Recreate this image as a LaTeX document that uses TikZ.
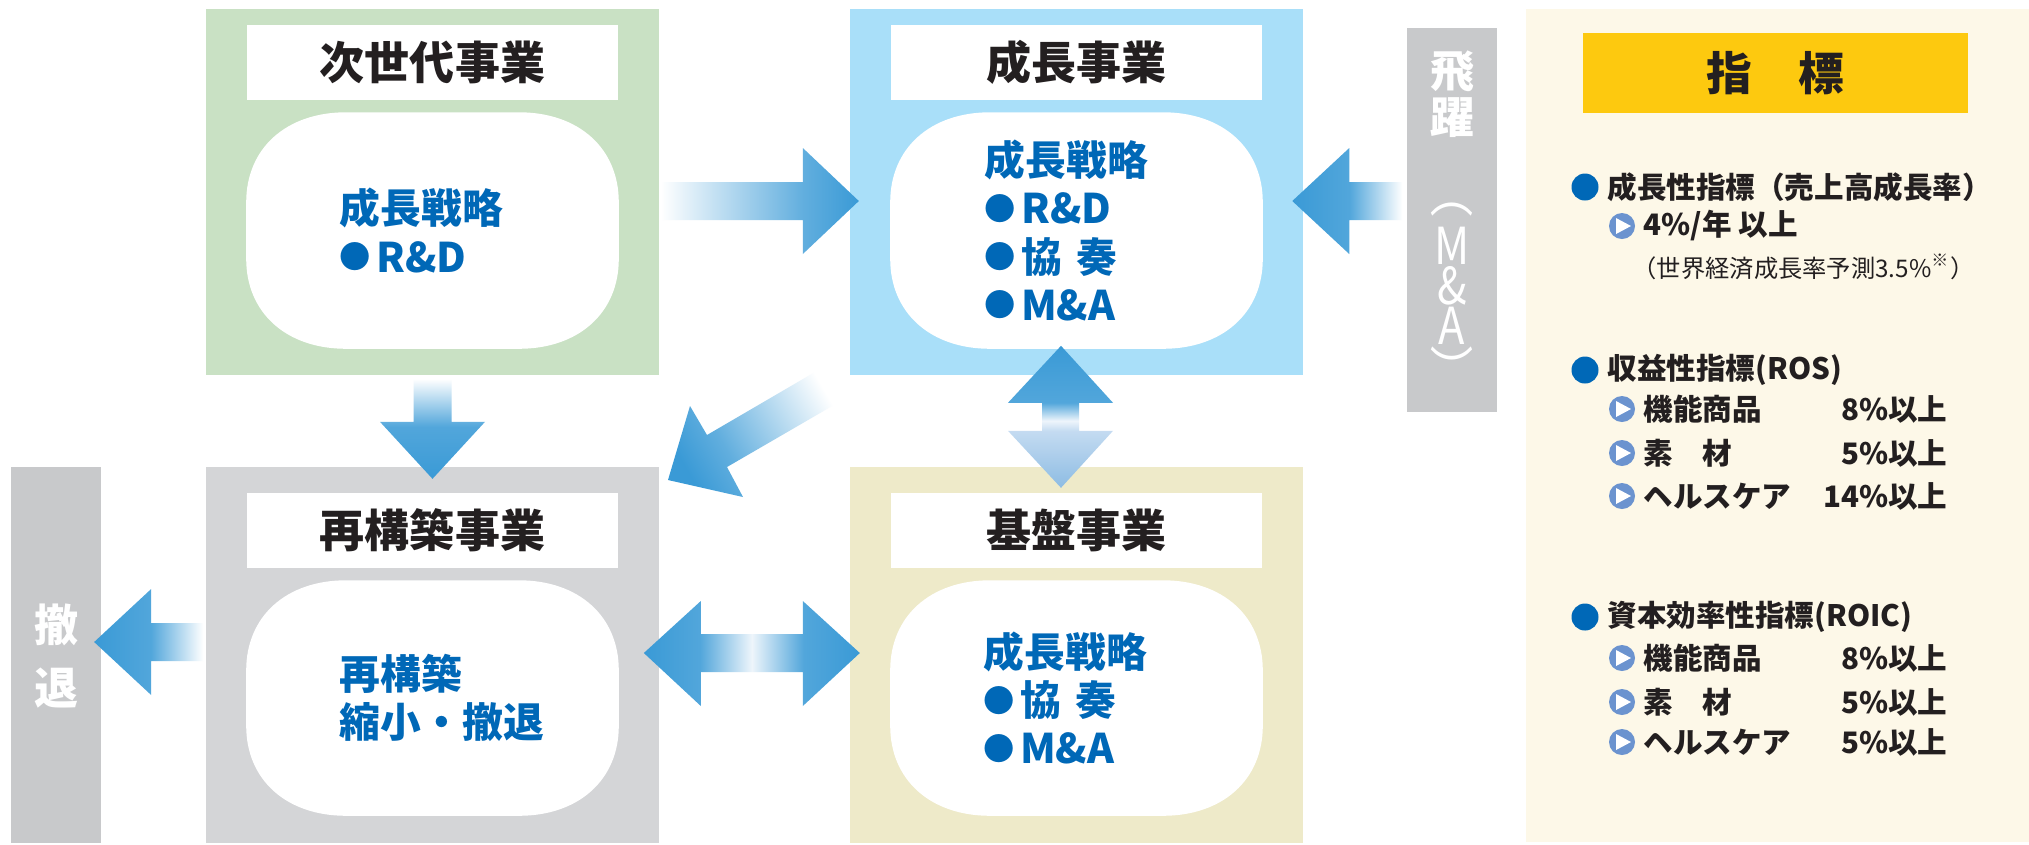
\documentclass[tikz,border=0pt]{standalone}
\usepackage{fontspec}
\setmainfont{Noto Sans CJK JP}
\usetikzlibrary{positioning,calc}

\definecolor{nextgreen}{HTML}{C9E1C4}
\definecolor{growblue}{HTML}{A9DFF9}
\definecolor{rebuildgray}{HTML}{D4D5D7}
\definecolor{basebeige}{HTML}{EEEAC9}
\definecolor{sidegray}{HTML}{C8C9CB}
\definecolor{panelcream}{HTML}{FDF8E8}
\definecolor{headyellow}{HTML}{FDC90F}
\definecolor{textblue}{HTML}{0068B7}
\definecolor{textdark}{HTML}{231F20}
\definecolor{iconblue}{HTML}{6B93CF}
\definecolor{arrowblue}{HTML}{3A9AD6}
\definecolor{arrowpale}{HTML}{EEF5FB}
\definecolor{lowblue}{HTML}{8DBCE3}
\definecolor{lowpale}{HTML}{C4DBF1}
\colorlet{arrowmid}{arrowblue!80!white}
\colorlet{arrowsoft}{arrowblue!88!white}

% gradients for the block arrows (25bp..75bp = path box)
\pgfdeclarehorizontalshading{fadelong}{100bp}{color(0bp)=(white); color(25bp)=(white); color(61bp)=(arrowmid); color(75bp)=(arrowblue); color(100bp)=(arrowblue)}
\pgfdeclarehorizontalshading{fadeshort}{100bp}{color(0bp)=(white); color(25bp)=(white); color(49bp)=(arrowsoft); color(75bp)=(arrowblue); color(100bp)=(arrowblue)}
\pgfdeclarehorizontalshading{dblfade}{100bp}{color(0bp)=(arrowblue); color(25bp)=(arrowblue); color(38bp)=(arrowsoft); color(50bp)=(arrowpale); color(62bp)=(arrowsoft); color(75bp)=(arrowblue); color(100bp)=(arrowblue)}
\pgfdeclareverticalshading{updown}{100bp}{color(0bp)=(lowblue); color(25bp)=(lowblue); color(45bp)=(lowpale); color(48.6bp)=(arrowpale); color(55bp)=(arrowsoft); color(75bp)=(arrowblue); color(100bp)=(arrowblue)}

\tikzset{
  box/.style={minimum width=4.53cm, inner sep=0pt},
  titlebox/.style={fill=white, minimum width=3.71cm, minimum height=0.75cm, inner sep=0pt,
    font=\fontsize{12.8}{14}\selectfont\bfseries, text=textdark},
  core/.style={minimum width=3.71cm, inner sep=0pt},
  plan/.style={anchor=west, align=left, inner sep=0pt,
    font=\fontsize{11.6}{13.7}\selectfont\bfseries, text=textblue},
  side/.style={fill=sidegray, minimum width=0.9cm, inner sep=0pt},
  sidetext/.style={text=white, inner sep=0pt, font=\fontsize{12.5}{14}\selectfont\bfseries},
  sidelatin/.style={text=white, inner sep=0pt, xscale=0.85, font=\fontsize{14.5}{11.4}\selectfont},
  item/.style={anchor=west, inner sep=0pt, font=\fontsize{8.4}{10}\selectfont\bfseries, text=textdark},
}

% small bullet in the plans
\newcommand\dotb{\raisebox{1pt}{\fontsize{8.9}{9}\selectfont ●}\hspace{0.12em}}

% white rounded core inside a business box
\newcommand\blob[1]{%
  \fill[white] let \p1=(#1.north west), \p2=(#1.south east) in
    (\x1,\y1-0.9cm) .. controls (\x1,\y1-0.36cm) and (\x1+0.4cm,\y1) .. (\x1+1cm,\y1)
    -- (\x2-1cm,\y1) .. controls (\x2-0.4cm,\y1) and (\x2,\y1-0.36cm) .. (\x2,\y1-0.9cm)
    -- (\x2,\y2+0.9cm) .. controls (\x2,\y2+0.36cm) and (\x2-0.4cm,\y2) .. (\x2-1cm,\y2)
    -- (\x1+1cm,\y2) .. controls (\x1+0.4cm,\y2) and (\x1,\y2+0.36cm) .. (\x1,\y2+0.9cm) -- cycle;}

\begin{document}
\begin{tikzpicture}[x=0.01cm, y=-0.01cm]
\fill[white] (0,0) rectangle (2029,844);
\useasboundingbox (0,0) rectangle (2029,844);

% business boxes
\node[box, fill=nextgreen, minimum height=3.66cm] (next) at (432.5,192) {};
\node[box, fill=growblue, minimum height=3.66cm] (grow) at (1076.5,192) {};
\node[box, fill=rebuildgray, minimum height=3.76cm] (rebuild) at (432.5,655) {};
\node[box, fill=basebeige, minimum height=3.76cm] (base) at (1076.5,655) {};

\node[titlebox, below=0.16cm of next.north] (nexttitle) {次世代事業};
\node[titlebox, below=0.16cm of grow.north] (growtitle) {成長事業};
\node[titlebox, below=0.26cm of rebuild.north] (rebuildtitle) {再構築事業};
\node[titlebox, below=0.26cm of base.north] (basetitle) {基盤事業};

\node[core, minimum height=2.35cm, below=1.04cm of next.north] (nextcore) {};
\node[core, minimum height=2.35cm, below=1.04cm of grow.north] (growcore) {};
\node[core, minimum height=2.34cm, below=1.14cm of rebuild.north] (rebuildcore) {};
\node[core, minimum height=2.34cm, below=1.14cm of base.north] (basecore) {};
\foreach \c in {nextcore, growcore, rebuildcore, basecore} {\blob{\c}}

\node[plan] (nextplan) at ([xshift=0.93cm]nextcore.west) {成長戦略\\\dotb R\&D};
\node[plan] (growplan) at ([xshift=0.94cm]growcore.west) {成長戦略\\\dotb R\&D\\\dotb 協\hspace{0.35em}奏\\\dotb M\&A};
\node[plan] (rebuildplan) at ([xshift=0.93cm]rebuildcore.west) {再構築\\縮小・撤退};
\node[plan] (baseplan) at ([xshift=0.93cm]basecore.west) {成長戦略\\\dotb 協\hspace{0.35em}奏\\\dotb M\&A};

% side columns
\node[side, minimum height=3.76cm] (exit) at (56,655) {};
\node[sidetext] (exit1) at (56,625) {撤};
\node[sidetext] (exit2) at (56,688) {退};

\node[side, minimum height=3.84cm] (leap) at (1452,220) {};
\node[sidetext] (leap1) at (1452,72) {飛};
\node[sidetext] (leap2) at (1452,118) {躍};
\node[sidelatin, rotate=-90] (leap3) at (1452,193) {（};
\node[sidelatin, align=center] (leapma) at (1452,286) {M\\\&\\A};
\node[sidelatin, rotate=-90] (leap4) at (1452,370) {）};

% block arrows
\coordinate (t1) at ($(next.east)+(1,9)$);
\shade[shading=fadelong] ($(t1)+(0,-19)$) -- ++(142,0) -- ++(0,-34) -- ++(56,53) -- ++(-56,53) -- ++(0,-34) -- ++(-142,0) -- cycle;
\coordinate (t2) at ($(leap.west)+(-4,-19)$);
\shade[shading=fadeshort, shading angle=180] ($(t2)+(0,-19)$) -- ++(-53,0) -- ++(0,-34) -- ++(-57,53) -- ++(57,53) -- ++(0,-34) -- ++(53,0) -- cycle;
\coordinate (t3) at ($(rebuild.west)+(-2,-13)$);
\shade[shading=fadeshort, shading angle=180] ($(t3)+(0,-19)$) -- ++(-52,0) -- ++(0,-34) -- ++(-57,53) -- ++(57,53) -- ++(0,-34) -- ++(52,0) -- cycle;
\coordinate (t4) at ($(next.south)+(0,3)$);
\shade[shading=fadeshort, shading angle=270] ($(t4)+(-19,0)$) -- ++(0,43) -- ++(-33.5,0) -- ++(52.5,57) -- ++(52.5,-57) -- ++(-33.5,0) -- ++(0,-43) -- cycle;
\coordinate (t5) at ($(rebuild.east)+(-16,-2)$);
\shade[shading=dblfade] (t5) -- ++(57,-52) -- ++(0,33) -- ++(102,0) -- ++(0,-33) -- ++(57,52) -- ++(-57,53) -- ++(0,-34) -- ++(-102,0) -- ++(0,34) -- cycle;
\coordinate (t6) at ($(grow.south)+(-15.5,-30)$);
\shade[shading=updown] (t6) -- ++(52,57) -- ++(-34,0) -- ++(0,28) -- ++(34,0) -- ++(-52,57) -- ++(-53,-57) -- ++(34,0) -- ++(0,-28) -- ++(-34,0) -- cycle;
\coordinate (t7) at ($(grow.south west)+(-27,-8)$);
\shade[shading=fadelong, shading angle=210] (t7) -- (707,435) -- (690,406) -- (668,480) -- (743,497) -- (727,467) -- (846,398) -- cycle;

% indicator panel
\node[fill=panelcream, minimum width=5.03cm, minimum height=8.33cm, inner sep=0pt] (panel) at (1777.5,425.5) {};
\node[fill=headyellow, minimum width=3.85cm, minimum height=0.8cm, inner sep=0pt,
  font=\fontsize{13}{14}\selectfont\bfseries, text=textdark] (head) at (1775.5,73) {指　標};

\foreach \y/\t [count=\i] in {187/成長性指標（売上高成長率）, 370/収益性指標(ROS), 617/資本効率性指標(ROIC)} {
  \fill[textblue] (1585,\y) circle[radius=0.135cm];
  \node[item] (sec\i) at (1607,\y) {\t};
}
\foreach \y in {226,409,453,496,658,702,742} {
  \fill[iconblue] (1622,\y) circle[radius=0.13cm];
  \fill[white] (1616,\y-8) -- (1631,\y) -- (1616,\y+8) -- cycle;
}
\node[item] (rate) at (1643,226) {4\%/年 以上};
\node[item, font=\fontsize{6.9}{8}\selectfont] (note) at (1632,267) {（世界経済成長率予測3.5\%\textsuperscript{※}）};
\foreach \y/\lab/\val [count=\i] in {409/機能商品/8\%以上, 453/素　材/5\%以上, 496/ヘルスケア/14\%以上,
    658/機能商品/8\%以上, 702/素　材/5\%以上, 742/ヘルスケア/5\%以上} {
  \node[item] (lab\i) at (1643,\y) {\lab};
  \node[item, anchor=east] (val\i) at (1948,\y) {\val};
}
\end{tikzpicture}
\end{document}
